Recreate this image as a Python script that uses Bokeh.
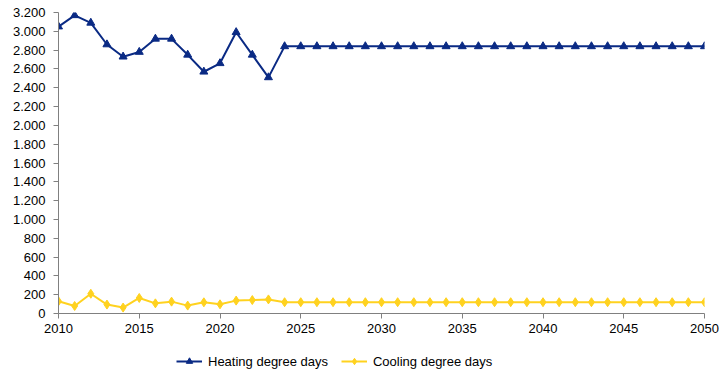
from bokeh.plotting import figure
from bokeh.models import Range1d, FixedTicker, Legend, LegendItem
from bokeh.layouts import column
from bokeh.embed import file_html
from bokeh.resources import INLINE

years = list(range(2010, 2051))
heating = [3050, 3170, 3090, 2860, 2730, 2780, 2920, 2920, 2750, 2570, 2660, 2990, 2750, 2510] + [2840] * 27
cooling = [130, 80, 210, 95, 63, 165, 108, 126, 84, 119, 98, 137, 143, 150] + [120] * 27
y_ticks = list(range(0, 3201, 200))
x_ticks = list(range(2010, 2051, 5))
y_labels = {t: f"{t:,}".replace(",", ".") for t in y_ticks}
series_names = ["Heating degree days", "Cooling degree days"]

NAVY = "#0A2A84"
YELLOW = "#FFD21F"
FONT = "Liberation Sans"

p = figure(width=719, height=335, output_backend="svg", toolbar_location=None,
           x_range=Range1d(2010, 2050), y_range=Range1d(0, 3200),
           min_border_left=58, min_border_right=15, min_border_top=12, min_border_bottom=22)
p.outline_line_color = None
p.xgrid.visible = False
p.ygrid.visible = False

p.line(years, heating, color=NAVY, line_width=2)
p.scatter(years, heating, marker="triangle", size=8, color=NAVY)
p.line(years, cooling, color=YELLOW, line_width=2)
p.scatter(years, cooling, marker="diamond", size=9, color=YELLOW)

for ax in (p.xaxis[0], p.yaxis[0]):
    ax.axis_line_color = "#808080"
    ax.major_tick_line_color = "#808080"
    ax.minor_tick_line_color = None
    ax.major_label_text_font = FONT
    ax.major_label_text_font_size = "13px"
    ax.major_label_text_color = "#000000"
    ax.major_tick_out = 5
    ax.major_tick_in = 0

p.yaxis[0].ticker = FixedTicker(ticks=y_ticks)
p.yaxis[0].major_label_overrides = y_labels
p.yaxis[0].major_label_standoff = 8
p.xaxis[0].ticker = FixedTicker(ticks=x_ticks)
p.xaxis[0].major_label_standoff = 5

# legend strip (proxy renderers lie outside this strip's ranges and are clipped)
q = figure(width=719, height=34, output_backend="svg", toolbar_location=None,
           x_axis_location=None, y_axis_location=None,
           x_range=Range1d(0, 1), y_range=Range1d(-2, -1),
           min_border_left=0, min_border_right=0, min_border_top=0, min_border_bottom=0)
q.grid.visible = False
q.outline_line_color = None
hl = q.line(years, heating, color=NAVY, line_width=2)
hm = q.scatter(years, heating, marker="triangle", size=8, color=NAVY)
cl = q.line(years, cooling, color=YELLOW, line_width=2)
cm = q.scatter(years, cooling, marker="diamond", size=9, color=YELLOW)
legend = Legend(items=[LegendItem(label=series_names[0], renderers=[hl, hm]),
                       LegendItem(label=series_names[1], renderers=[cl, cm])],
                orientation="horizontal", location=(118, 0),
                label_text_font=FONT, label_text_font_size="13px", label_text_color="#000000",
                glyph_width=26, glyph_height=16, label_standoff=6, spacing=13,
                border_line_color=None, background_fill_alpha=0,
                margin=0, padding=2)
q.add_layout(legend, "center")

layout = column(p, q, spacing=0)
open("out.html", "w").write(file_html(layout, INLINE))
